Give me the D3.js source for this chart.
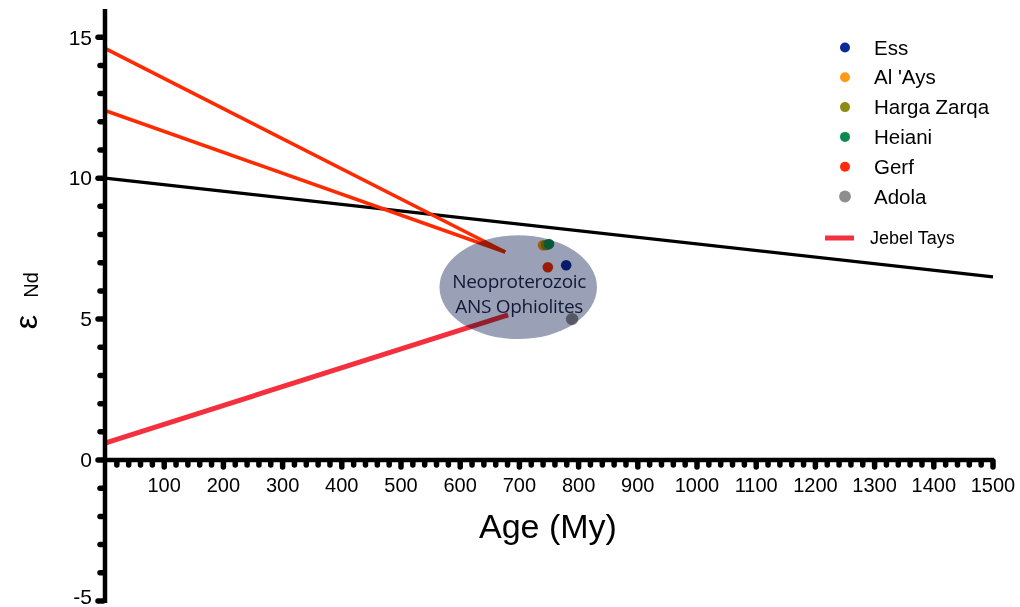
<!DOCTYPE html>
<html>
<head>
<meta charset="utf-8">
<script src="https://cdn.jsdelivr.net/npm/d3@7"></script>
<style>
  html, body { margin: 0; padding: 0; background: #fff; }
  svg { display: block; }
</style>
</head>
<body>
<svg id="chart" width="1020" height="607"></svg>
<script>
// ---- data ----
const xTickLabels = [100,200,300,400,500,600,700,800,900,1000,1100,1200,1300,1400,1500];
const yTickLabels = [-5, 0, 5, 10, 15];

const sampleNames = ["Ess", "Al 'Ays", "Harga Zarqa", "Heiani", "Gerf", "Adola"];
const sampleColors = ["#0b2a98", "#ff9a12", "#8c8c12", "#0e8a50", "#ff2a0a", "#8e8e8e"];
const sampleAge = [779, 740, 745, 750, 748, 789];
const sampleEps = [6.91, 7.62, 7.63, 7.66, 6.84, 5.0];
const sampleRadius = [5.3, 5.3, 5.3, 5.3, 5.3, 6.2];

const depletedMantleAge = [0, 1500];
const depletedMantleEps = [10, 6.5];

const gerfUpperAge = [0, 676];
const gerfUpperEps = [14.6, 7.38];
const gerfLowerAge = [0, 676];
const gerfLowerEps = [12.4, 7.38];

const jebelTaysAge = [0, 681];
const jebelTaysEps = [0.6, 5.15];

const fieldCenterAge = 698, fieldCenterEps = 6.13;
const fieldHalfWidthAge = 133, fieldHalfHeightEps = 1.84;
const fieldLabel = ["Neoproterozoic", "ANS Ophiolites"];

// ---- scales ----
const svg = d3.select("#chart");
const x = d3.scaleLinear().domain([0, 1500]).range([105, 993]);
const y = d3.scaleLinear().domain([-5, 16]).range([601, 9]);

const line = d3.line().x(d => x(d[0])).y(d => y(d[1]));
const zip = (a, b) => a.map((v, i) => [v, b[i]]);

// ---- lines ----
const gLines = svg.append("g");
gLines.append("path").datum(zip(depletedMantleAge, depletedMantleEps))
  .attr("d", line).attr("fill", "none").attr("stroke", "#000").attr("stroke-width", 3.2);
gLines.append("path").datum(zip(gerfUpperAge, gerfUpperEps))
  .attr("d", line).attr("fill", "none").attr("stroke", "#ff2a00").attr("stroke-width", 3.6);
gLines.append("path").datum(zip(gerfLowerAge, gerfLowerEps))
  .attr("d", line).attr("fill", "none").attr("stroke", "#ff2a00").attr("stroke-width", 3.6);
gLines.append("path").datum(zip(jebelTaysAge, jebelTaysEps))
  .attr("d", line).attr("fill", "none").attr("stroke", "#f5303e").attr("stroke-width", 5);

// ---- points ----
const order = [1, 2, 3, 4, 0, 5];
svg.append("g").selectAll("circle").data(order).join("circle")
  .attr("cx", i => x(sampleAge[i]))
  .attr("cy", i => y(sampleEps[i]))
  .attr("r", i => sampleRadius[i])
  .attr("fill", i => sampleColors[i]);

// ---- field ellipse ----
svg.append("ellipse")
  .attr("cx", x(fieldCenterAge))
  .attr("cy", y(fieldCenterEps))
  .attr("rx", x(fieldHalfWidthAge) - x(0))
  .attr("ry", y(0) - y(fieldHalfHeightEps))
  .attr("fill", "#9aa0b6")
  .style("mix-blend-mode", "multiply");

svg.append("g").selectAll("text").data(fieldLabel).join("text")
  .attr("x", x(fieldCenterAge) + 1)
  .attr("y", (d, i) => y(fieldCenterEps) + 1 + i * 25)
  .attr("text-anchor", "middle")
  .attr("font-family", "'Open Sans', sans-serif")
  .attr("font-size", 19)
  .attr("letter-spacing", -0.3)
  .attr("fill", "#121936")
  .text(d => d);

// ---- axes ----
const axisColor = "#000";
// y axis
svg.append("line").attr("x1", x(0)).attr("x2", x(0))
  .attr("y1", y(16)).attr("y2", y(-5) + 2)
  .attr("stroke", axisColor).attr("stroke-width", 4.5);
const yMinor = d3.range(-5, 16, 1);
svg.append("g").selectAll("line").data(yMinor).join("line")
  .attr("x1", x(0) - 2).attr("x2", d => yTickLabels.includes(d) ? x(0) - 7 : x(0) - 5)
  .attr("y1", d => y(d)).attr("y2", d => y(d))
  .attr("stroke", axisColor).attr("stroke-width", 5.5).attr("stroke-linecap", "round");
svg.append("g").selectAll("text").data(yTickLabels).join("text")
  .attr("x", x(0) - 13).attr("y", d => Math.min(y(d), 597))
  .attr("dy", "0.35em")
  .attr("text-anchor", "end")
  .attr("font-family", "'Liberation Sans', Arial, sans-serif")
  .attr("font-size", 21)
  .text(d => d);

// x axis
svg.append("line").attr("x1", x(0) - 2).attr("x2", x(1500) + 1)
  .attr("y1", y(0)).attr("y2", y(0))
  .attr("stroke", axisColor).attr("stroke-width", 4.5);
const xMinor = d3.range(20, 1501, 20);
svg.append("g").selectAll("line").data(xMinor).join("line")
  .attr("x1", d => x(d)).attr("x2", d => x(d))
  .attr("y1", y(0) + 1).attr("y2", d => d % 100 === 0 ? y(0) + 7 : y(0) + 5)
  .attr("stroke", axisColor).attr("stroke-width", 5.5).attr("stroke-linecap", "round");
svg.append("g").selectAll("text").data(xTickLabels).join("text")
  .attr("x", d => x(d)).attr("y", y(0) + 32)
  .attr("text-anchor", "middle")
  .attr("font-family", "'Liberation Sans', Arial, sans-serif")
  .attr("font-size", 20)
  .text(d => d);

// axis titles
svg.append("text")
  .attr("x", 548).attr("y", 538)
  .attr("text-anchor", "middle")
  .attr("font-family", "'Liberation Sans', Arial, sans-serif")
  .attr("font-size", 34)
  .text("Age (My)");

svg.append("text")
  .attr("transform", "translate(37,322) rotate(-90)")
  .attr("text-anchor", "middle")
  .attr("font-family", "'Liberation Sans', Arial, sans-serif")
  .attr("font-size", 32)
  .text("ε");
svg.append("text")
  .attr("transform", "translate(38,285) rotate(-90)")
  .attr("text-anchor", "middle")
  .attr("font-family", "'Liberation Sans', Arial, sans-serif")
  .attr("font-size", 20)
  .text("Nd");

// ---- legend ----
const legend = svg.append("g");
const legRows = legend.selectAll("g").data(sampleNames).join("g")
  .attr("transform", (d, i) => `translate(845, ${47.5 + i * 29.8})`);
legRows.append("circle")
  .attr("r", (d, i) => sampleRadius[i] - 0.3)
  .attr("fill", (d, i) => sampleColors[i]);
legRows.append("text")
  .attr("x", 29).attr("dy", "0.35em")
  .attr("font-family", "'Liberation Sans', Arial, sans-serif")
  .attr("font-size", 20.5)
  .text(d => d);

legend.append("line")
  .attr("x1", 825).attr("x2", 854).attr("y1", 238).attr("y2", 238)
  .attr("stroke", "#f5303e").attr("stroke-width", 5);
legend.append("text")
  .attr("x", 870).attr("y", 238).attr("dy", "0.35em")
  .attr("font-family", "'Liberation Sans', Arial, sans-serif")
  .attr("font-size", 18)
  .text("Jebel Tays");
</script>
</body>
</html>
